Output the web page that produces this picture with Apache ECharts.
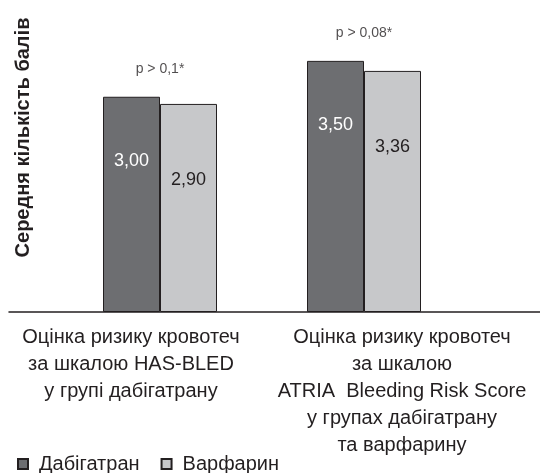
<!DOCTYPE html>
<html>
<head>
<meta charset="utf-8">
<script src="https://cdn.jsdelivr.net/npm/echarts@6/dist/echarts.min.js"></script>
<style>
  html, body { margin: 0; padding: 0; background: #ffffff; }
  #chart { width: 540px; height: 473px; }
</style>
</head>
<body>
<div id="chart"></div>
<script>
// Categories (multi-line axis labels)
const categories = [
  ['Оцінка ризику кровотеч', 'за шкалою HAS-BLED', 'у групі дабігатрану'],
  ['Оцінка ризику кровотеч', 'за шкалою', 'ATRIA  Bleeding Risk Score', 'у групах дабігатрану', 'та варфарину']
];
const seriesNames = ['Дабігатран', 'Варфарин'];
const dabigatran = [3.00, 3.50];
const warfarin = [2.90, 3.36];
const pValues = ['p > 0,1*', 'p > 0,08*'];
const yTitle = 'Середня кількість балів';

const FONT = '"Liberation Sans", Arial, Helvetica, sans-serif';
const TEXT = '#231f20';
const fmt = v => v.toFixed(2).replace('.', ',');

// horizontal shift of each category's label block (pixels, + = right)
const labelShift = [-29, 38];

const rich = {};
labelShift.forEach((s, i) => {
  rich['c' + i] = {
    fontFamily: FONT, fontSize: 20, color: TEXT, lineHeight: 27,
    padding: s < 0 ? [0, -2 * s, 0, 0] : [0, 0, 0, 2 * s]
  };
});

const chart = echarts.init(document.getElementById('chart'), null, { renderer: 'canvas' });

chart.setOption({
  backgroundColor: '#ffffff',
  animation: false,
  textStyle: { fontFamily: FONT },
  grid: [
    { left: 58, right: 74, top: 25, bottom: 161, outerBoundsMode: 'none' },
    { left: 9, right: 0, top: 25, bottom: 161, outerBoundsMode: 'none' }
  ],
  legend: {
    left: 12, top: 449,
    itemWidth: 10, itemHeight: 10, itemGap: 21,
    icon: 'rect',
    textStyle: { fontFamily: FONT, fontSize: 20, color: TEXT, padding: [0, 0, 0, 6] },
    data: seriesNames
  },
  xAxis: [
    {
      type: 'category',
      gridIndex: 0,
      data: categories.map(c => c.join('\n')),
      axisLine: { show: false },
      axisTick: { show: false },
      axisLabel: {
        interval: 0,
        margin: 12,
        formatter: (val, idx) => val.split('\n').map(l => '{c' + idx + '|' + l + '}').join('\n'),
        rich: rich
      }
    },
    {
      // baseline running the full width
      type: 'value',
      gridIndex: 1,
      axisLine: { show: true, onZero: false, lineStyle: { color: TEXT, width: 1.5 } },
      axisTick: { show: false },
      axisLabel: { show: false },
      splitLine: { show: false }
    }
  ],
  yAxis: [
    {
      type: 'value',
      gridIndex: 0,
      min: 0, max: 4,
      axisLine: { show: false },
      axisTick: { show: false },
      axisLabel: { show: false },
      splitLine: { show: false },
      name: yTitle,
      nameLocation: 'middle',
      nameRotate: 90,
      nameGap: 25,
      nameTextStyle: {
        fontFamily: FONT, fontSize: 20, fontWeight: 'bold', color: TEXT,
        padding: [0, 0, 0, 62]
      }
    },
    {
      type: 'value',
      gridIndex: 1,
      show: false
    }
  ],
  series: [
    {
      name: seriesNames[0],
      type: 'bar',
      xAxisIndex: 0, yAxisIndex: 0,
      data: dabigatran,
      barWidth: 57,
      barGap: '0%',
      itemStyle: { color: '#6d6e71', borderColor: TEXT, borderWidth: 1 },
      label: {
        show: true, position: 'insideTop', distance: 55,
        fontFamily: FONT, fontSize: 18, color: '#ffffff',
        formatter: p => fmt(p.value)
      }
    },
    {
      name: seriesNames[1],
      type: 'bar',
      xAxisIndex: 0, yAxisIndex: 0,
      data: warfarin,
      barWidth: 57,
      barGap: '0%',
      itemStyle: { color: '#c7c8ca', borderColor: TEXT, borderWidth: 1 },
      label: {
        show: true, position: 'insideTop', distance: 67,
        fontFamily: FONT, fontSize: 18, color: TEXT,
        formatter: p => fmt(p.value)
      }
    },
    {
      // significance notes above each pair of bars
      type: 'scatter',
      xAxisIndex: 0, yAxisIndex: 0,
      symbolSize: 0,
      silent: true,
      data: dabigatran.map((d, i) => Math.max(d, warfarin[i])),
      label: {
        show: true, position: 'top', distance: 21,
        fontFamily: FONT, fontSize: 14, color: TEXT,
        formatter: p => pValues[p.dataIndex]
      }
    }
  ]
});
</script>
</body>
</html>
